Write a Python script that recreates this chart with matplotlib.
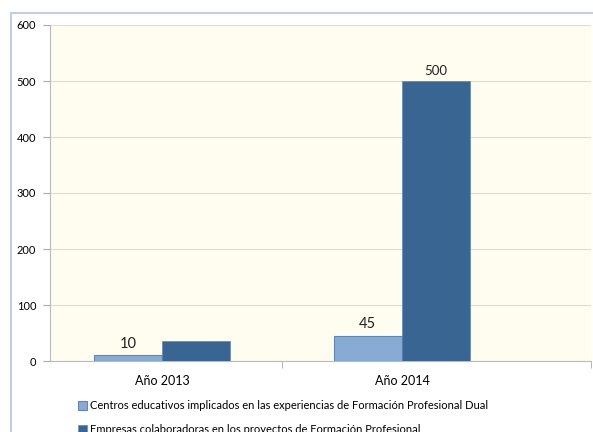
import matplotlib.pyplot as plt
from matplotlib.patches import Rectangle
import numpy as np

plt.rcParams['font.family'] = ['Lato', 'DejaVu Sans']

categories = ["Año 2013", "Año 2014"]
centros = [10, 45]
empresas = [35, 500]
series_names = ["Centros educativos implicados en las experiencias de Formación Profesional Dual",
                "Empresas colaboradoras en los proyectos de Formación Profesional"]
# only these values are printed on the chart
labels_centros = ["10", "45"]
labels_empresas = [None, "500"]

fig = plt.figure(figsize=(5.93, 4.32), dpi=100)
fig.patches.append(Rectangle((11/593, -0.2), 1.2, 0.2 + 1 - 13/432, transform=fig.transFigure,
                             fill=False, edgecolor='#c5cde2', linewidth=1.5))
ax = fig.add_axes([50/593, 1 - 361/432, (591 - 50)/593, (361 - 25)/432])
ax.set_facecolor('#fffcf0')

x = np.arange(len(categories))
w = 0.285
b1 = ax.bar(x - w/2, centros, w, color='#87abd2', edgecolor='#5f88b8', linewidth=0.8, label=series_names[0], zorder=3)
b2 = ax.bar(x + w/2, empresas, w, color='#386592', edgecolor='#5f88b8', linewidth=0.5, label=series_names[1], zorder=3)

for i, t in enumerate(labels_centros):
    ax.text(x[i] - w/2, centros[i] + 8, t, ha='center', va='bottom', fontsize=10.5, color='#222222')
for i, t in enumerate(labels_empresas):
    if t:
        ax.text(x[i] + w/2, empresas[i] + 7, t, ha='center', va='bottom', fontsize=9.5, color='#222222')

xmin, xmax = (50 - 162) / 240, (591 - 162) / 240
ax.set_ylim(0, 600)
ax.set_yticks(range(0, 601, 100))
ax.set_xlim(xmin, xmax)
ax.set_xticks(x)
ax.set_xticklabels(categories, fontsize=9)
ax.set_xticks([0.5, xmax], minor=True)
ax.tick_params(axis='x', which='major', length=0, pad=10)
ax.tick_params(axis='x', which='minor', length=5, color='#aaaaaa')
ax.tick_params(axis='y', labelsize=8, length=5, color='#aaaaaa', pad=5)
ax.grid(axis='y', color='#dcdcdc', linewidth=0.8, zorder=0)
for s in ['top', 'right']:
    ax.spines[s].set_visible(False)
for s in ['left', 'bottom']:
    ax.spines[s].set_color('#bbbbbb')

fig.legend(handles=[b1, b2], loc='upper left', bbox_to_anchor=(74/593, 1 - 396/432),
           frameon=False, fontsize=8.0, handlelength=0.75, handleheight=0.75,
           handletextpad=0.25, labelspacing=1.1, borderaxespad=0)

fig.savefig("out.png", dpi=100)
